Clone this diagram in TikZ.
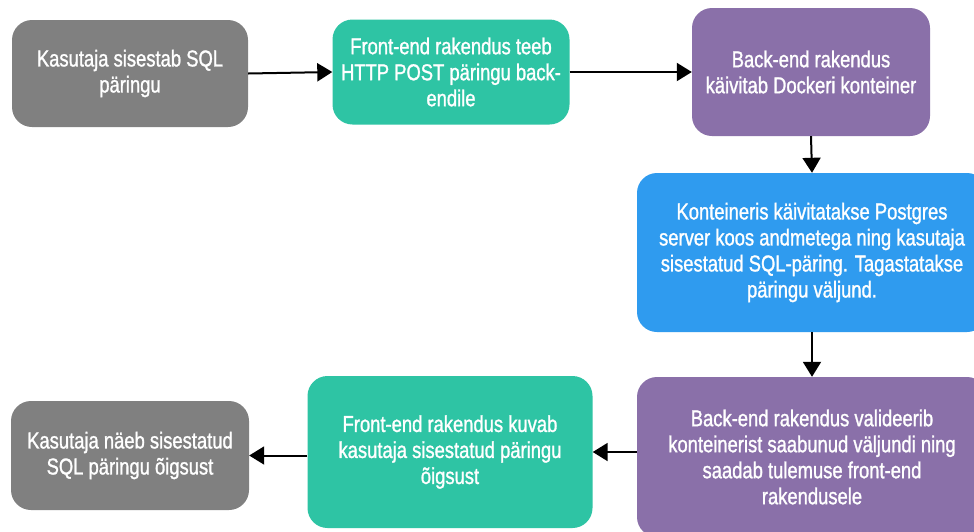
\documentclass[tikz,border=0pt]{standalone}
\usepackage{fontspec}
\setmainfont{Liberation Sans}[FakeStretch=0.8,FakeBold=1.2]
\usetikzlibrary{arrows.meta}
\definecolor{stepgray}{HTML}{808080}
\definecolor{stepteal}{HTML}{2EC4A4}
\definecolor{steppurple}{HTML}{8A70A9}
\definecolor{stepblue}{HTML}{2F9BEF}
\tikzset{
  stepbox/.style={rectangle, rounded corners=20pt, inner sep=0pt, align=center,
    text=white, font=\fontsize{23}{26}\selectfont},
  flow/.style={-{Triangle[length=15pt,width=18pt]}, line width=2pt, black}
}
\begin{document}
\begin{tikzpicture}[x=1pt,y=-1pt]
\clip (0,0) rectangle (974,531);
\fill[white] (0,0) rectangle (974,531);

\node[stepbox, fill=stepgray, minimum width=236pt, minimum height=107pt] (a) at (130,73.5) {Kasutaja sisestab SQL\\päringu};
\node[stepbox, fill=stepteal, minimum width=237pt, minimum height=105pt] (b) at (451,72) {Front-end rakendus teeb\\HTTP POST päringu back-\\endile};
\node[stepbox, fill=steppurple, minimum width=238pt, minimum height=128pt] (c) at (811,72) {Back-end rakendus\\käivitab Dockeri konteiner};
\node[stepbox, fill=stepblue, minimum width=350pt, minimum height=159pt] (d) at (812,252.5) {Konteineris käivitatakse Postgres\\server koos andmetega ning kasutaja\\sisestatud SQL-päring. Tagastatakse\\päringu väljund.};
\node[stepbox, fill=steppurple, minimum width=350pt, minimum height=160pt] (e) at (812,457) {Back-end rakendus valideerib\\konteinerist saabunud väljundi ning\\saadab tulemuse front-end\\rakendusele};
\node[stepbox, fill=stepteal, minimum width=285pt, minimum height=152pt] (f) at (450,452) {Front-end rakendus kuvab\\kasutaja sisestatud päringu\\õigsust};
\node[stepbox, fill=stepgray, minimum width=238pt, minimum height=109pt] (g) at (130,455.5) {Kasutaja näeb sisestatud\\SQL päringu õigsust};

\draw[flow] (a.east) -- (b.west);
\draw[flow] (b.east) -- (c.west |- b.east);
\draw[flow] (c.south) -- (d.north);
\draw[flow] (d.south) -- (e.north);
\draw[flow] (e.west |- f.east) -- (f.east);
\draw[flow] (f.west |- g.east) -- (g.east);
\end{tikzpicture}
\end{document}
